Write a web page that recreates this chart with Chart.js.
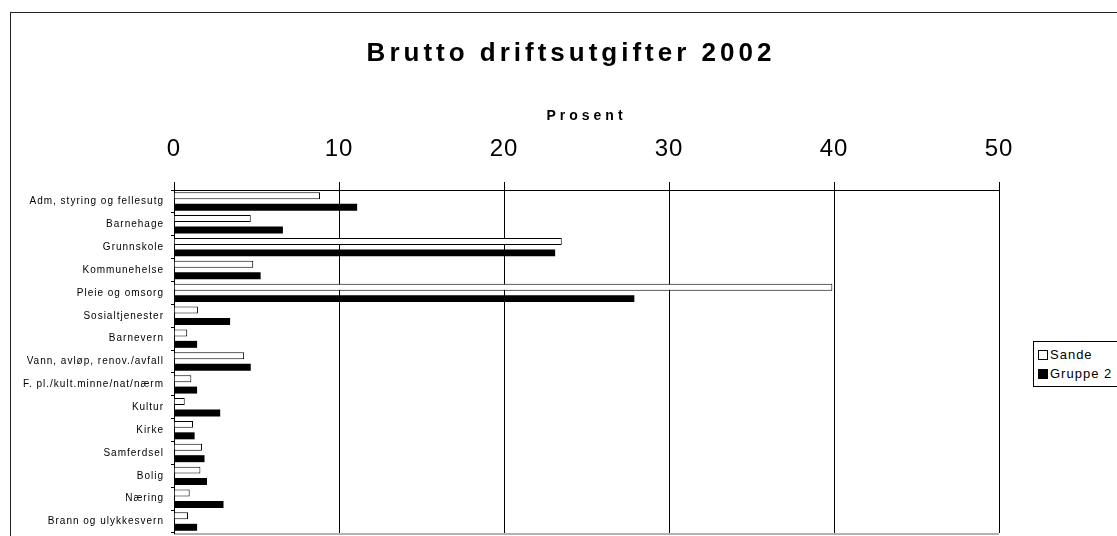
<!DOCTYPE html>
<html>
<head>
<meta charset="utf-8">
<script src="https://cdn.jsdelivr.net/npm/chart.js@4/dist/chart.umd.min.js"></script>
<style>
  body { margin: 0; background: #fff; overflow: hidden; }
  #wrap { position: relative; width: 1117px; height: 536px; overflow: hidden; }
  #frame { position: absolute; left: 10px; top: 12px; width: 1130px; height: 600px; border: 1px solid #222; }
  #chart { position: absolute; left: 0; top: 0; }
  #legend {
    position: absolute; left: 1033px; top: 341px; width: 120px; padding: 3px 0 3px 4px;
    border: 1px solid #000; background: #fff;
    font-family: "Liberation Sans", Arial, sans-serif; font-size: 13px; letter-spacing: 1px; color: #000;
  }
  #legend div { height: 19px; line-height: 19px; white-space: nowrap; }
  #legend span.box { display: inline-block; width: 8px; height: 8px; border: 1px solid #000; margin-right: 2px; vertical-align: -1px; }
</style>
</head>
<body>
<div id="wrap">
  <div id="frame"></div>
  <canvas id="chart" width="1122" height="536"></canvas>
  <div id="legend"></div>
</div>
<script>
// data (percent)
const categories = [
  "Adm, styring og fellesutg",
  "Barnehage",
  "Grunnskole",
  "Kommunehelse",
  "Pleie og omsorg",
  "Sosialtjenester",
  "Barnevern",
  "Vann, avløp, renov./avfall",
  "F. pl./kult.minne/nat/nærm",
  "Kultur",
  "Kirke",
  "Samferdsel",
  "Bolig",
  "Næring",
  "Brann og ulykkesvern"
];
const sande = [8.85, 4.65, 23.5, 4.8, 39.9, 1.45, 0.8, 4.25, 1.05, 0.65, 1.15, 1.7, 1.6, 0.95, 0.85];
const gruppe2 = [11.1, 6.6, 23.1, 5.25, 27.9, 3.4, 1.4, 4.65, 1.4, 2.8, 1.25, 1.85, 2.0, 3.0, 1.4];
const xTickValues = [0, 10, 20, 30, 40, 50];

const font = "'Liberation Sans', Arial, sans-serif";

// spacing of letters like the original export, plus the grey bottom edge
const spacing = {
  id: "spacing",
  beforeDraw(chart) { chart.ctx.letterSpacing = "4px"; },
  afterDatasetsDraw(chart) { chart.ctx.letterSpacing = "1px"; },
  afterDraw(chart) {
    const ctx = chart.ctx, a = chart.chartArea;
    ctx.letterSpacing = "0px";
    ctx.save();
    ctx.strokeStyle = "rgba(0,0,0,0.3)";
    ctx.lineWidth = 2;
    ctx.beginPath();
    ctx.moveTo(a.left, a.bottom + 1);
    ctx.lineTo(a.right, a.bottom + 1);
    ctx.stroke();
    ctx.restore();
  }
};

const chart = new Chart(document.getElementById("chart").getContext("2d"), {
  type: "bar",
  data: {
    labels: categories,
    datasets: [
      { label: "Sande", data: sande, backgroundColor: "#fff", borderColor: "#000", borderWidth: 1 },
      { label: "Gruppe 2", data: gruppe2, backgroundColor: "#000", borderColor: "#000", borderWidth: 0 }
    ]
  },
  options: {
    indexAxis: "y",
    responsive: false,
    animation: false,
    devicePixelRatio: 1,
    layout: { padding: { left: 20, right: 0, top: 0, bottom: 3 } },
    datasets: { bar: { barPercentage: 0.61, categoryPercentage: 1 } },
    plugins: {
      legend: { display: false },
      tooltip: { enabled: false },
      title: {
        display: true,
        text: "Brutto driftsutgifter 2002",
        color: "#000",
        font: { family: font, size: 26, weight: "bold" },
        padding: { top: 38, bottom: 0 }
      },
      subtitle: {
        display: true,
        fullSize: false,
        text: "Prosent",
        color: "#000",
        font: { family: font, size: 14, weight: "bold" },
        padding: { top: 38.5, bottom: 0 }
      }
    },
    scales: {
      x: {
        position: "top",
        min: 0,
        max: 50,
        afterBuildTicks: (s) => { s.ticks = xTickValues.map(v => ({ value: v })); },
        afterFit: (s) => { s.height = 65.5; },
        ticks: { z: 1, color: "#000", font: { family: font, size: 24 }, padding: 18 },
        grid: { color: "#000", tickLength: 8, lineWidth: 1 },
        border: { color: "#000" }
      },
      y: {
        afterFit: (s) => { s.width = 154; s.paddingTop = 0; s.paddingBottom = 0; },
        ticks: { z: 1, color: "#000", font: { family: font, size: 10 }, padding: 7, autoSkip: false },
        grid: { drawOnChartArea: false, color: "#000", tickLength: 3, offset: true },
        border: { color: "#000" }
      },
      // empty space on the right where the legend sits
      yRight: {
        type: "category",
        position: "right",
        afterFit: (s) => { s.width = 123; s.paddingTop = 0; s.paddingBottom = 0; },
        ticks: { display: false },
        grid: { display: false },
        border: { display: false }
      }
    }
  },
  plugins: [spacing]
});

// legend box built from the datasets
const legend = document.getElementById("legend");
chart.data.datasets.forEach(ds => {
  const row = document.createElement("div");
  row.innerHTML = `<span class="box" style="background:${ds.backgroundColor}"></span>${ds.label}`;
  legend.appendChild(row);
});
</script>
</body>
</html>
